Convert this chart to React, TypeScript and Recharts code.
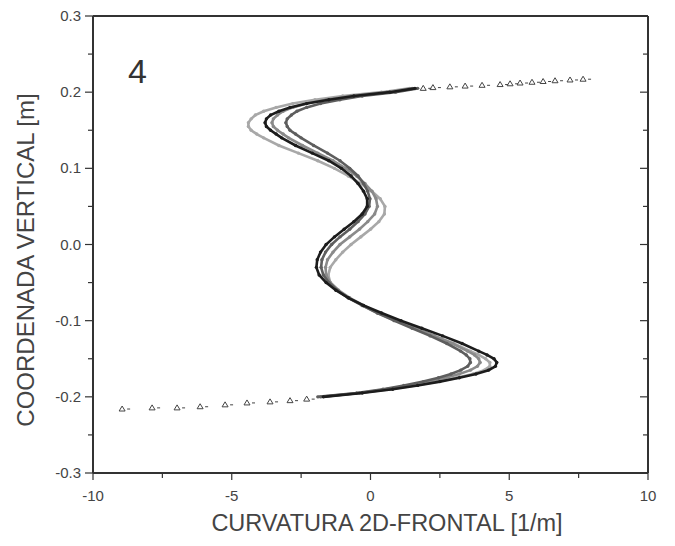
import { ScatterChart, Scatter, XAxis, YAxis } from 'recharts';

// vertical sample levels [m], shared by the curves
const yLevels = [
  0.205, 0.2, 0.195, 0.19, 0.185, 0.18, 0.175, 0.17, 0.165, 0.16, 0.155, 0.15, 0.145, 0.14,
  0.13, 0.12, 0.11, 0.1, 0.09, 0.08, 0.07, 0.06, 0.05, 0.04, 0.03, 0.02, 0.01, 0,
  -0.01, -0.02, -0.03, -0.04, -0.05, -0.06, -0.07, -0.08, -0.09, -0.1, -0.11, -0.12, -0.13, -0.14,
  -0.145, -0.15, -0.155, -0.16, -0.165, -0.17, -0.175, -0.18, -0.185, -0.19, -0.195, -0.2,
];

// curvature [1/m] of each run at those levels
const curveBlack = [
  1.6, 0.7, -0.6, -1.5, -2.3, -2.9, -3.3, -3.6, -3.75, -3.8, -3.75, -3.6, -3.4, -3.2,
  -2.7, -2.1, -1.5, -1.05, -0.7, -0.45, -0.25, -0.12, -0.12, -0.3, -0.6, -0.95, -1.3, -1.6,
  -1.8, -1.92, -1.95, -1.85, -1.6, -1.25, -0.8, -0.25, 0.4, 1.1, 1.85, 2.6, 3.3, 3.9,
  4.2, 4.45, 4.55, 4.5, 4.25, 3.8, 3.2, 2.5, 1.7, 0.8, -0.3, -1.7,
];
const curveLight = [
  1.4, 0.4, -1.0, -2.0, -2.8, -3.4, -3.85, -4.15, -4.3, -4.4, -4.4, -4.3, -4.1, -3.85,
  -3.3, -2.6, -1.9, -1.3, -0.8, -0.35, 0.05, 0.35, 0.52, 0.5, 0.3, 0.0, -0.35, -0.7,
  -1.0, -1.25, -1.45, -1.52, -1.45, -1.2, -0.8, -0.3, 0.25, 0.9, 1.6, 2.3, 3.0, 3.6,
  3.9, 4.15, 4.3, 4.3, 4.1, 3.7, 3.1, 2.4, 1.6, 0.7, -0.4, -1.8,
];
const curveMid = [
  1.5, 0.6, -0.7, -1.6, -2.3, -2.8, -3.15, -3.35, -3.5, -3.55, -3.5, -3.35, -3.15, -2.95,
  -2.45, -1.9, -1.35, -0.9, -0.5, -0.2, 0.05, 0.2, 0.25, 0.15, -0.1, -0.4, -0.75, -1.1,
  -1.35, -1.55, -1.62, -1.6, -1.45, -1.15, -0.75, -0.25, 0.3, 0.95, 1.65, 2.3, 2.95, 3.5,
  3.75, 3.9, 3.95, 3.85, 3.6, 3.2, 2.7, 2.1, 1.4, 0.6, -0.4, -1.8,
];
const curveInner = [
  1.7, 0.9, -0.3, -1.1, -1.8, -2.3, -2.65, -2.85, -3.0, -3.05, -3.0, -2.9, -2.7, -2.5,
  -2.05, -1.55, -1.1, -0.75, -0.45, -0.25, -0.1, -0.02, -0.05, -0.2, -0.45, -0.75, -1.1, -1.4,
  -1.62, -1.75, -1.78, -1.7, -1.5, -1.2, -0.8, -0.3, 0.25, 0.85, 1.5, 2.15, 2.75, 3.25,
  3.45, 3.58, 3.6, 3.5, 3.25, 2.9, 2.45, 1.9, 1.2, 0.45, -0.5, -1.9,
];

// scattered points of the two ends
const topTailX = [1.9, 2.25, 2.86, 3.41, 4.02, 4.67, 5.03, 5.39, 5.82, 6.22, 6.65, 7.19, 7.66];
const topTailY = [0.205, 0.206, 0.207, 0.208, 0.209, 0.21, 0.211, 0.212, 0.213, 0.214, 0.215, 0.216, 0.217];
const bottomTailX = [-8.95, -7.87, -6.97, -6.14, -5.24, -4.45, -3.62, -2.9, -2.3];
const bottomTailY = [-0.216, -0.2145, -0.2145, -0.213, -0.2105, -0.208, -0.2066, -0.205, -0.203];

const xTicks = [-10, -7.5, -5, -2.5, 0, 2.5, 5, 7.5, 10];
const yTicks = [-0.3, -0.25, -0.2, -0.15, -0.1, -0.05, 0, 0.05, 0.1, 0.15, 0.2, 0.25, 0.3];

const toPoints = (xs: number[]) => yLevels.map((y, i) => ({ x: xs[i], y }));
const topTail = topTailX.map((x, i) => ({ x, y: topTailY[i] }));
const bottomTail = bottomTailX.map((x, i) => ({ x, y: bottomTailY[i] }));

const AXIS = '#333';
const FONT = '"Liberation Sans", Arial, sans-serif';

const isMajorX = (v: number) => v % 5 === 0;
const isMajorY = (v: number) => Math.round(v * 100) % 10 === 0;

const BottomTick = ({ x, y, payload }: any) => {
  const major = isMajorX(payload.value);
  return (
    <g>
      <line x1={x} y1={y} x2={x} y2={y + (major ? 7 : 5)} stroke={AXIS} strokeWidth={1.2} />
      {major && (
        <text x={x} y={y + 28} textAnchor="middle" fontSize={15} fill="#444" fontFamily={FONT}>
          {payload.value}
        </text>
      )}
    </g>
  );
};

const TopTick = ({ x, y, payload }: any) => {
  const major = isMajorX(payload.value);
  return <line x1={x} y1={y} x2={x} y2={y + (major ? 7 : 5)} stroke={AXIS} strokeWidth={1.2} />;
};

const LeftTick = ({ x, y, payload }: any) => {
  const major = isMajorY(payload.value);
  return (
    <g>
      <line x1={x} y1={y} x2={x - (major ? 8 : 5)} y2={y} stroke={AXIS} strokeWidth={1.2} />
      {major && (
        <text x={x - 12} y={y + 5} textAnchor="end" fontSize={15} fill="#444" fontFamily={FONT}>
          {payload.value.toFixed(1)}
        </text>
      )}
    </g>
  );
};

const RightTick = ({ x, y, payload }: any) => {
  const major = isMajorY(payload.value);
  return <line x1={x} y1={y} x2={x - (major ? 8 : 5)} y2={y} stroke={AXIS} strokeWidth={1.2} />;
};

const tailGlyph = (props: any) => {
  const { cx, cy } = props;
  return (
    <g stroke="#444" strokeWidth={1} fill="none">
      <path d={`M${cx - 3},${cy + 2} L${cx},${cy - 3} L${cx + 3},${cy + 2} Z`} />
      <line x1={cx + 5} y1={cy} x2={cx + 8} y2={cy} />
    </g>
  );
};

const tinyDot = (color: string) => (props: any) => (
  <circle cx={props.cx} cy={props.cy} r={1.7} fill={color} />
);

const curves = [
  { name: 'light', xs: curveLight, color: '#a8a8a8' },
  { name: 'mid', xs: curveMid, color: '#8a8a8a' },
  { name: 'inner', xs: curveInner, color: '#5e5e5e' },
  { name: 'black', xs: curveBlack, color: '#1c1c1c' },
];

export default function App() {
  return (
    <div style={{ position: 'absolute', left: 0, top: 0, width: 675, height: 546, background: '#fff' }}>
      <ScatterChart width={675} height={546} margin={{ top: 15, right: 26, bottom: 43, left: 33 }}>
        <XAxis
          type="number"
          dataKey="x"
          domain={[-10, 10]}
          ticks={xTicks}
          interval={0}
          tickSize={0}
          tickMargin={0}
          tick={<BottomTick />}
          height={30}
          stroke={AXIS}
          strokeWidth={2}
          allowDataOverflow
        />
        <XAxis
          xAxisId="top"
          orientation="top"
          type="number"
          domain={[-10, 10]}
          ticks={xTicks}
          interval={0}
          tickSize={0}
          tickMargin={0}
          tick={<TopTick />}
          height={1}
          stroke={AXIS}
          strokeWidth={2}
          allowDataOverflow
        />
        <YAxis
          type="number"
          dataKey="y"
          domain={[-0.3, 0.3]}
          ticks={yTicks}
          interval={0}
          tickSize={0}
          tickMargin={0}
          tick={<LeftTick />}
          width={60}
          stroke={AXIS}
          strokeWidth={2}
          allowDataOverflow
        />
        <YAxis
          yAxisId="right"
          orientation="right"
          type="number"
          domain={[-0.3, 0.3]}
          ticks={yTicks}
          interval={0}
          tickSize={0}
          tickMargin={0}
          tick={<RightTick />}
          width={1}
          stroke={AXIS}
          strokeWidth={2}
          allowDataOverflow
        />
        {curves.map((c) => (
          <Scatter
            key={c.name}
            data={toPoints(c.xs)}
            line={{ stroke: c.color, strokeWidth: 2.6 }}
            lineType="joint"
            shape={tinyDot(c.color)}
            isAnimationActive={false}
          />
        ))}
        <Scatter data={topTail} shape={tailGlyph} isAnimationActive={false} />
        <Scatter data={bottomTail} shape={tailGlyph} isAnimationActive={false} />
      </ScatterChart>
      <div
        style={{
          position: 'absolute', left: 128, top: 52, fontFamily: FONT, fontSize: 34, color: '#333',
        }}
      >
        4
      </div>
      <div
        style={{
          position: 'absolute', left: 0, top: 510, width: 774, textAlign: 'center',
          fontFamily: FONT, fontSize: 23.5, color: '#444', whiteSpace: 'nowrap',
        }}
      >
        CURVATURA 2D-FRONTAL [1/m]
      </div>
      <div
        style={{
          position: 'absolute', left: 26, top: 260, width: 0, height: 0,
        }}
      >
        <div
          style={{
            position: 'absolute', left: 0, top: 0, transform: 'translate(-50%, -50%) rotate(-90deg)',
            fontFamily: FONT, fontSize: 24, color: '#444', whiteSpace: 'nowrap',
          }}
        >
          COORDENADA VERTICAL [m]
        </div>
      </div>
    </div>
  );
}
